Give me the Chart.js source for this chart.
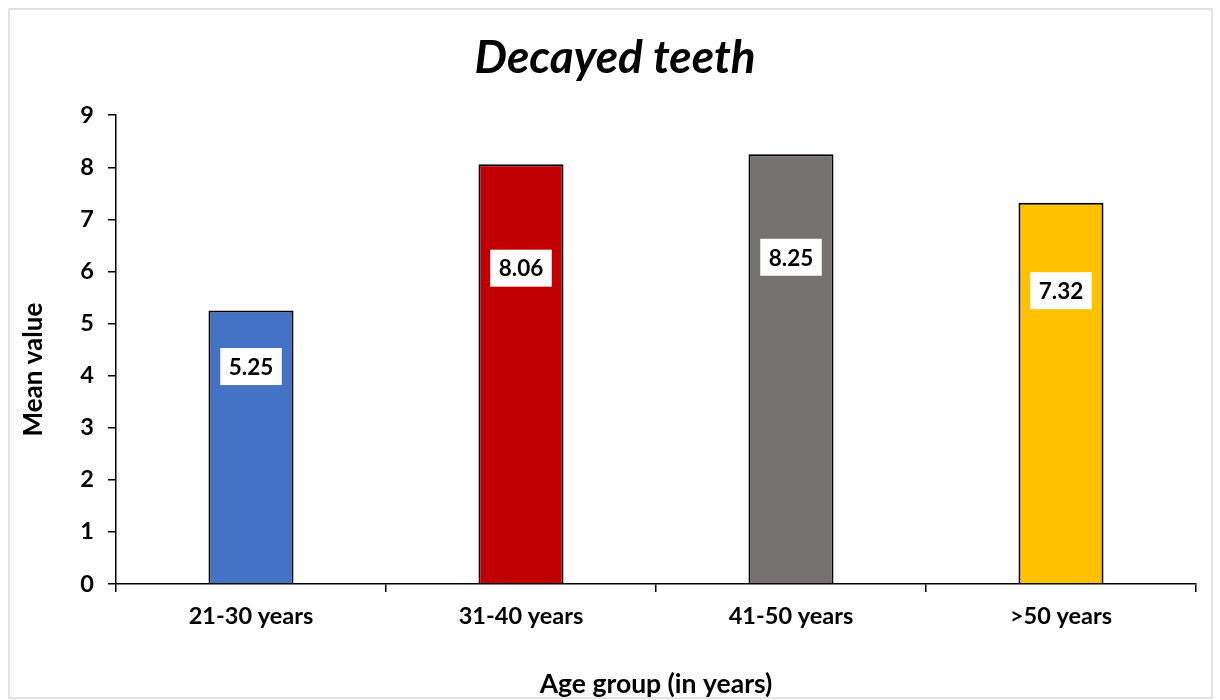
<!DOCTYPE html>
<html>
<head>
<meta charset="utf-8">
<title>Decayed teeth</title>
<script src="https://cdn.jsdelivr.net/npm/chart.js@4/dist/chart.umd.min.js"></script>
<style>
  html, body { margin: 0; padding: 0; background: #ffffff; }
  #wrap { width: 1220px; height: 700px; position: relative; }
</style>
</head>
<body>
<div id="wrap"><canvas id="chart" width="1220" height="700"></canvas></div>
<script>
// Mean number of decayed teeth by age group
const ageGroups = ['21-30 years', '31-40 years', '41-50 years', '>50 years'];
const meanDecayed = [5.25, 8.06, 8.25, 7.32];
const barColors = ['#4472C4', '#C00000', '#767171', '#FFC000'];
const yTicks = [0, 1, 2, 3, 4, 5, 6, 7, 8, 9];

const FONT = 'Lato, "Open Sans", "DejaVu Sans", sans-serif';

// Light frame around the whole figure
const framePlugin = {
  id: 'frame',
  beforeDraw(chart) {
    const ctx = chart.ctx;
    ctx.save();
    ctx.fillStyle = '#ffffff';
    ctx.fillRect(0, 0, chart.width, chart.height);
    ctx.strokeStyle = '#d9d9d9';
    ctx.lineWidth = 1.5;
    ctx.strokeRect(9, 9, chart.width - 17, chart.height - 11);
    ctx.restore();
  }
};

// Vertical axis caption, placed a little below the middle of the plot
const yCaptionPlugin = {
  id: 'yCaption',
  afterDraw(chart, args, opts) {
    const ctx = chart.ctx;
    const area = chart.chartArea;
    ctx.save();
    ctx.font = 'bold 26px ' + FONT;
    ctx.fillStyle = '#000000';
    ctx.textAlign = 'center';
    ctx.textBaseline = 'middle';
    ctx.translate(opts.x, (area.top + area.bottom) / 2 + opts.shift);
    ctx.rotate(-Math.PI / 2);
    ctx.fillText(opts.text, 0, 0);
    ctx.restore();
  }
};

// White boxed value labels inside each bar
const valueBoxPlugin = {
  id: 'valueBox',
  afterDatasetsDraw(chart, args, opts) {
    const ctx = chart.ctx;
    const meta = chart.getDatasetMeta(0);
    const ds = chart.data.datasets[0];
    ctx.save();
    ctx.font = 'bold 22.5px ' + FONT;
    ctx.textAlign = 'center';
    ctx.textBaseline = 'middle';
    meta.data.forEach((bar, i) => {
      const text = ds.data[i].toFixed(2);
      const w = ctx.measureText(text).width + 17;
      const h = 37;
      const cx = bar.x;
      const cy = bar.y + opts.drop[i];
      ctx.fillStyle = '#ffffff';
      ctx.fillRect(cx - w / 2, cy - h / 2, w, h);
      ctx.fillStyle = '#000000';
      ctx.fillText(text, cx, cy + 1);
    });
    ctx.restore();
  }
};

new Chart(document.getElementById('chart'), {
  type: 'bar',
  data: {
    labels: ageGroups,
    datasets: [{
      data: meanDecayed,
      backgroundColor: barColors,
      borderColor: '#000000',
      borderWidth: 2,
      categoryPercentage: 1.0,
      barPercentage: 0.315
    }]
  },
  options: {
    responsive: false,
    animation: false,
    devicePixelRatio: 1,
    layout: { padding: { top: 0, right: 24, bottom: 0, left: 34 } },
    plugins: {
      legend: { display: false },
      tooltip: { enabled: false },
      title: {
        display: true,
        text: 'Decayed teeth',
        color: '#000000',
        font: { family: FONT, size: 46, weight: 'bold', style: 'italic', lineHeight: 1.2 },
        padding: { top: 31, bottom: 29 }
      },
      yCaption: { text: 'Mean value', x: 34, shift: 20 },
      valueBox: { drop: [56, 104, 103, 88] }
    },
    scales: {
      x: {
        offset: true,
        grid: {
          offset: true,
          drawOnChartArea: false,
          drawTicks: true,
          tickLength: 8,
          color: '#000000',
          lineWidth: 1.5
        },
        border: { display: true, color: '#000000', width: 1.5 },
        ticks: {
          color: '#000000',
          padding: 10,
          font: { family: FONT, size: 23.5, weight: 'bold' }
        },
        title: {
          display: true,
          text: 'Age group (in years)',
          color: '#000000',
          font: { family: FONT, size: 26.5, weight: 'bold', lineHeight: 1.2 },
          padding: { top: 0, bottom: 0 }
        },
        afterFit(scale) { scale.height = 116; }
      },
      y: {
        min: 0,
        max: 9,
        afterBuildTicks(scale) { scale.ticks = yTicks.map(v => ({ value: v })); },
        grid: {
          drawOnChartArea: false,
          drawTicks: true,
          tickLength: 8,
          color: '#000000',
          lineWidth: 1.5
        },
        border: { display: true, color: '#000000', width: 1.5 },
        ticks: {
          color: '#000000',
          padding: 14,
          font: { family: FONT, size: 23.5, weight: 'bold' }
        },
        title: { display: false },
        afterFit(scale) { scale.width = 82; }
      }
    }
  },
  plugins: [framePlugin, yCaptionPlugin, valueBoxPlugin]
});
</script>
</body>
</html>
